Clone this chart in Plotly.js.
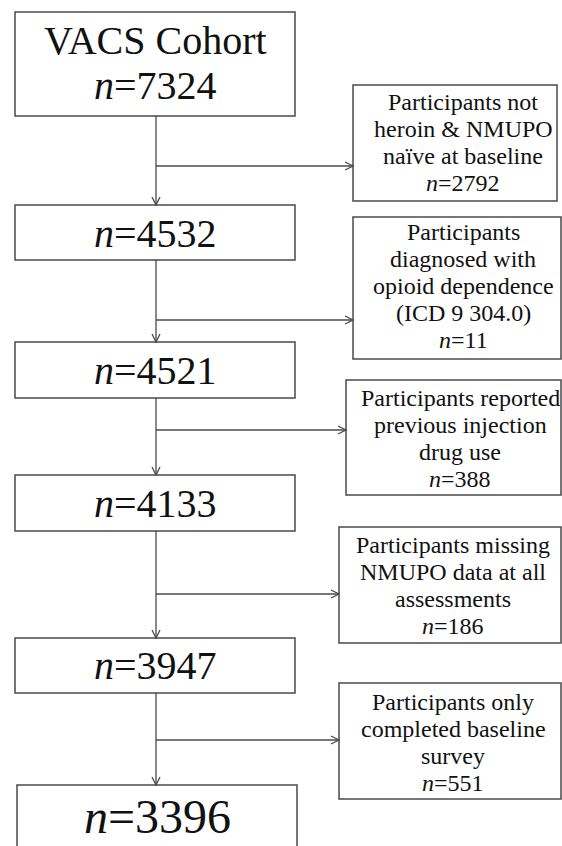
<!DOCTYPE html>
<html>
<head>
<meta charset="utf-8">
<script src="https://cdn.plot.ly/plotly-3.0.1.min.js"></script>
<style>html,body{margin:0;padding:0;background:#fff;}#chart{width:562px;height:846px;}</style>
</head>
<body>
<div id="chart"></div>
<script>
// ---- data ----
const cohortName = "VACS Cohort";
const remainingN = [7324, 4532, 4521, 4133, 3947, 3396];
const exclusionLines = [
  ["Participants not", "heroin & NMUPO", "naïve at baseline"],
  ["Participants", "diagnosed with", "opioid dependence", "(ICD 9 304.0)"],
  ["Participants reported", "previous injection", "drug use"],
  ["Participants missing", "NMUPO data at all", "assessments"],
  ["Participants only", "completed baseline", "survey"]
];
const excludedN = [2792, 11, 388, 186, 551];

// ---- layout geometry (pixels) ----
const leftBoxes = [[15,295,12,116],[15,295,205,260],[15,295,342,398],[15,295,475,531],[15,295,638,693],[17,297,785,870]];
const leftTextY = [[40,85],[233],[370],[503],[665],[816]];
const leftFont = [40,40,40,40,40,48];
const rightBoxes = [[353,557,85,201],[353,561,217,359],[346,561,380,495],[339,561,527,643],[339,561,683,799]];
const branchY = [166,320,430,594,740];
const rightTextX = [463,463,460,453,453];
const rightFirstY = [102,232,398,545,702];
const lineStep = 27;
const stemX = 156;

const FONT = "Liberation Serif";
const boxLine = {color:"#4a4a4a", width:1.5};
const arrowLine = {color:"#4a4a4a", width:1.3};

const shapes = [];
const annotations = [];
function nText(n){ return "<i>n</i>=" + n; }

leftBoxes.forEach((b,i)=>{
  shapes.push({type:"rect", xref:"x", yref:"y", x0:b[0], x1:b[1], y0:b[2], y1:b[3], line:boxLine, fillcolor:"rgba(0,0,0,0)"});
  const lines = i===0 ? [cohortName, nText(remainingN[0])] : [nText(remainingN[i])];
  lines.forEach((t,k)=>{
    annotations.push({x:(b[0]+b[1])/2, y:leftTextY[i][k], xref:"x", yref:"y", text:t, showarrow:false,
      xanchor:"center", yanchor:"middle", font:{family:FONT, size:leftFont[i], color:"#111"}});
  });
  if(i < leftBoxes.length-1){
    const nextTop = leftBoxes[i+1][2];
    shapes.push({type:"line", xref:"x", yref:"y", x0:stemX, x1:stemX, y0:b[3], y1:nextTop, line:arrowLine});
    shapes.push({type:"path", xref:"x", yref:"y", path:`M ${stemX-4},${nextTop-8} L ${stemX},${nextTop} L ${stemX+4},${nextTop-8}`, line:arrowLine});
  }
});

rightBoxes.forEach((b,i)=>{
  shapes.push({type:"rect", xref:"x", yref:"y", x0:b[0], x1:b[1], y0:b[2], y1:b[3], line:boxLine, fillcolor:"rgba(0,0,0,0)"});
  const y = branchY[i], xl = b[0];
  shapes.push({type:"line", xref:"x", yref:"y", x0:stemX, x1:xl, y0:y, y1:y, line:arrowLine});
  shapes.push({type:"path", xref:"x", yref:"y", path:`M ${xl-8},${y-4} L ${xl},${y} L ${xl-8},${y+4}`, line:arrowLine});
  const lines = exclusionLines[i].concat([nText(excludedN[i])]);
  lines.forEach((t,k)=>{
    annotations.push({x:rightTextX[i], y:rightFirstY[i]+k*lineStep, xref:"x", yref:"y", text:t, showarrow:false,
      xanchor:"center", yanchor:"middle", font:{family:FONT, size:24, color:"#111"}});
  });
});

const layout = {
  width:562, height:846,
  margin:{l:0,r:0,t:0,b:0},
  paper_bgcolor:"#fff", plot_bgcolor:"#fff",
  xaxis:{range:[0,562], visible:false, fixedrange:true},
  yaxis:{range:[846,0], visible:false, fixedrange:true},
  shapes:shapes, annotations:annotations, showlegend:false
};
Plotly.newPlot("chart", [{x:[], y:[], type:"scatter", mode:"markers", hoverinfo:"skip"}], layout, {staticPlot:true, displayModeBar:false});
</script>
</body>
</html>
